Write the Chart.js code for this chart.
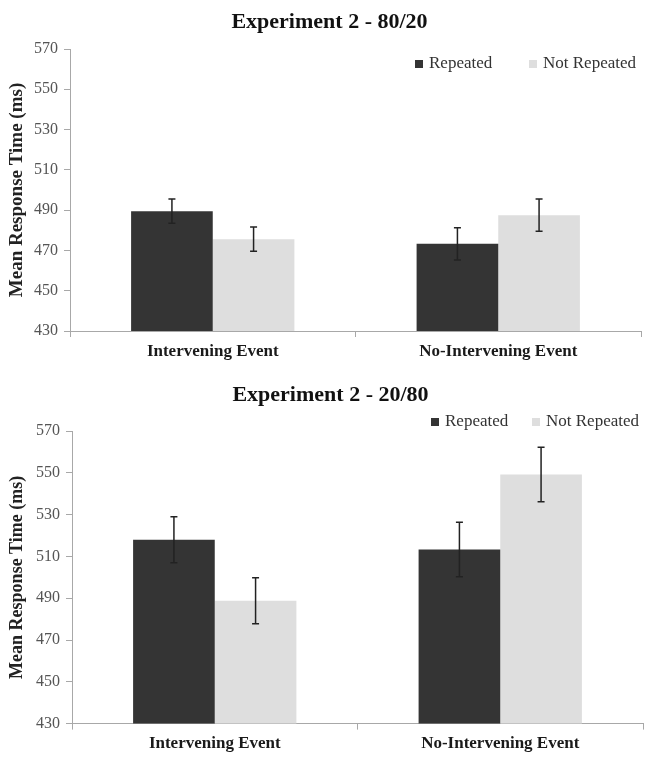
<!DOCTYPE html>
<html>
<head>
<meta charset="utf-8">
<script src="https://cdn.jsdelivr.net/npm/chart.js@4"></script>
<style>
  body { margin: 0; background: #fff; }
  #page { position: relative; width: 646px; height: 760px; }
  .panel { position: absolute; left: 0; width: 646px; }
  .item { position: absolute; display: flex; align-items: center; height: 20px;
          font: 17px "Liberation Serif", "Times New Roman", serif; color: #333; white-space: nowrap; }
  .box { width: 8px; height: 8px; margin-right: 6px; margin-top: 2px; }
</style>
</head>
<body>
<div id="page">
  <div class="panel" style="top:0;height:375px"><canvas id="chartTop" width="646" height="375"></canvas></div>
  <div class="panel" style="top:375px;height:385px"><canvas id="chartBottom" width="646" height="385"></canvas></div>
</div>
<script>
const categories = ["Intervening Event", "No-Intervening Event"];
const seriesNames = ["Repeated", "Not Repeated"];
const seriesColors = ["#343434", "#dedede"];

// Experiment 2 - 80/20
const repeated8020 = [489.5, 473.3];
const notRepeated8020 = [475.6, 487.5];
const errRepeated8020 = [6, 8];
const errNotRepeated8020 = [6, 8];

// Experiment 2 - 20/80
const repeated2080 = [518, 513.3];
const notRepeated2080 = [488.8, 549.2];
const errRepeated2080 = [11, 13];
const errNotRepeated2080 = [11, 13];

const yTicks = [430, 450, 470, 490, 510, 530, 550, 570];

Chart.defaults.font.family = '"Liberation Serif", "Times New Roman", serif';

// draws +/- error whiskers on each bar
const errorBars = {
  id: "errorBars",
  afterDatasetsDraw(chart) {
    const ctx = chart.ctx;
    const y = chart.scales.y;
    ctx.save();
    ctx.strokeStyle = "#222";
    ctx.lineWidth = 1.5;
    chart.data.datasets.forEach((ds, i) => {
      const meta = chart.getDatasetMeta(i);
      meta.data.forEach((bar, j) => {
        const top = y.getPixelForValue(ds.data[j] + ds.errors[j]);
        const bot = y.getPixelForValue(ds.data[j] - ds.errors[j]);
        ctx.beginPath();
        ctx.moveTo(bar.x, top);
        ctx.lineTo(bar.x, bot);
        ctx.moveTo(bar.x - 3.5, top);
        ctx.lineTo(bar.x + 3.5, top);
        ctx.moveTo(bar.x - 3.5, bot);
        ctx.lineTo(bar.x + 3.5, bot);
        ctx.stroke();
      });
    });
    ctx.restore();
  },
};

function makeChart(canvas, title, rep, notRep, errRep, errNot, opt) {
  return new Chart(canvas, {
    type: "bar",
    data: {
      labels: categories,
      datasets: [
        { label: seriesNames[0], data: rep, errors: errRep, backgroundColor: seriesColors[0], borderWidth: 0 },
        { label: seriesNames[1], data: notRep, errors: errNot, backgroundColor: seriesColors[1], borderWidth: 0 },
      ],
    },
    options: {
      responsive: false,
      animation: false,
      devicePixelRatio: 1,
      categoryPercentage: 0.572,
      barPercentage: 1.0,
      layout: { padding: { left: 18, right: opt.padRight, top: 0, bottom: opt.padBottom } },
      plugins: {
        legend: { display: false },
        tooltip: { enabled: false },
        title: {
          display: true,
          text: title,
          color: "#111",
          font: { size: 22, weight: "bold" },
          padding: { top: opt.titleTop, bottom: opt.titleBottom },
        },
      },
      scales: {
        x: {
          grid: { display: true, drawOnChartArea: false, drawTicks: true, tickLength: 6, color: "#a8a8a8" },
          border: { color: "#a8a8a8", width: 1 },
          ticks: { color: "#1a1a1a", padding: 4, font: { size: 17, weight: "bold" } },
        },
        y: {
          min: yTicks[0],
          max: yTicks[yTicks.length - 1],
          afterBuildTicks: (s) => { s.ticks = yTicks.map((v) => ({ value: v })); },
          afterFit: (s) => { s.width = opt.axisWidth; },
          grid: { display: true, drawOnChartArea: false, drawTicks: true, tickLength: 6, color: "#a8a8a8" },
          border: { color: "#a8a8a8", width: 1 },
          ticks: { color: "#555", padding: 6, font: { size: 16 } },
          title: {
            display: true,
            text: "Mean Response Time (ms)",
            color: "#222",
            font: { size: opt.yTitleSize, weight: "bold" },
            padding: { top: opt.yTitlePad, bottom: 0 },
          },
        },
      },
    },
    plugins: [errorBars],
  });
}

makeChart(document.getElementById("chartTop"), "Experiment 2 - 80/20",
  repeated8020, notRepeated8020, errRepeated8020, errNotRepeated8020,
  { padRight: 5, padBottom: 9.6, titleTop: 8.8, titleBottom: 13.8, axisWidth: 52, yTitleSize: 19, yTitlePad: -11.9 });

makeChart(document.getElementById("chartBottom"), "Experiment 2 - 20/80",
  repeated2080, notRepeated2080, errRepeated2080, errNotRepeated2080,
  { padRight: 3, padBottom: 2, titleTop: 6.8, titleBottom: 22.8, axisWidth: 54, yTitleSize: 18, yTitlePad: -11.3 });

// legends as html
function addLegend(top, lefts) {
  const page = document.getElementById("page");
  seriesNames.forEach((name, i) => {
    const item = document.createElement("div");
    item.className = "item";
    item.style.top = top + "px";
    item.style.left = lefts[i] + "px";
    const box = document.createElement("span");
    box.className = "box";
    box.style.background = seriesColors[i];
    item.appendChild(box);
    item.appendChild(document.createTextNode(name));
    page.appendChild(item);
  });
}
addLegend(53, [415, 529]);
addLegend(411, [431, 532]);
</script>
</body>
</html>
